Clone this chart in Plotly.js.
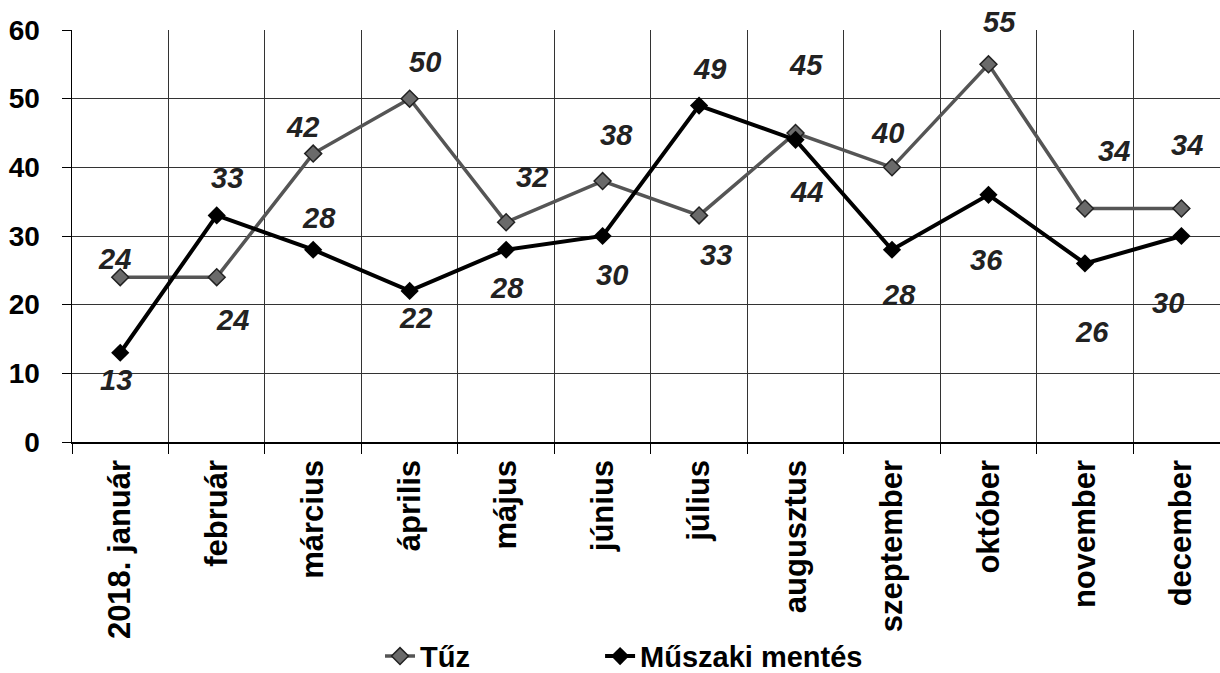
<!DOCTYPE html>
<html>
<head>
<meta charset="utf-8">
<script src="https://cdn.plot.ly/plotly-3.0.1.min.js"></script>
<style>html,body{margin:0;padding:0;background:#fff;}#chart{width:1220px;height:673px;}</style>
</head>
<body>
<div id="chart"></div>
<script>
const months = ["2018. január","február","március","április","május","június","július","augusztus","szeptember","október","november","december"];
const tuz = [24,24,42,50,32,38,33,45,40,55,34,34];
const muszaki = [13,33,28,22,28,30,49,44,28,36,26,30];
const seriesNames = ["Tűz","Műszaki mentés"];

// label offsets (px) per point: [xshift, yshift]
const tuzOff = [[-6,18],[16,-43],[-11,27],[15,37],[26,45],[14,46],[17,-40],[10,68],[-5,34],[11,42],[29,58],[6,64]];
const musOff = [[-4,-27],[10,37],[6,32],[6,-27],[1,-38],[9,-39],[10,37],[11,-52],[7,-45],[-2,-65],[7,-69],[-13,-67]];

const FONT = "Liberation Sans, Arial, sans-serif";
const legFont = {family: FONT, size: 29, color: "#000", weight: "bold"};

const traces = [
  {x: months, y: tuz, name: seriesNames[0], type: "scatter", mode: "lines+markers", legend: "legend",
   line: {color: "#555", width: 3.5},
   marker: {symbol: "diamond", size: 13, color: "#6a6a6a", line: {color: "#222", width: 1.5}}},
  {x: months, y: muszaki, name: seriesNames[1], type: "scatter", mode: "lines+markers", legend: "legend2",
   line: {color: "#000", width: 4},
   marker: {symbol: "diamond", size: 14, color: "#000"}}
];

const annotations = [];
function addLabels(vals, offs) {
  vals.forEach((v, i) => {
    annotations.push({x: months[i], y: v, xref: "x", yref: "y", text: "<b><i>" + v + "</i></b>",
      showarrow: false, xshift: offs[i][0], yshift: offs[i][1],
      font: {family: FONT, size: 29, color: "#222"}});
  });
}
addLabels(tuz, tuzOff);
addLabels(muszaki, musOff);

const layout = {
  width: 1220, height: 673,
  margin: {l: 72, r: 0, t: 30, b: 231, autoexpand: false},
  paper_bgcolor: "#fff", plot_bgcolor: "#fff",
  showlegend: true,
  legend: {orientation: "h", x: 0.2683, xanchor: "left", y: -0.52, yanchor: "middle", font: legFont, bgcolor: "rgba(0,0,0,0)"},
  legend2: {orientation: "h", x: 0.46, xanchor: "left", y: -0.52, yanchor: "middle", font: legFont, bgcolor: "rgba(0,0,0,0)"},
  xaxis: {type: "category", range: [-0.5, 11.40], tickson: "boundaries", automargin: false,
    showgrid: true, gridcolor: "#333", gridwidth: 1,
    showline: true, linecolor: "#000", linewidth: 1.5,
    ticks: "outside", ticklen: 10, tickcolor: "#000", ticklabelstandoff: 4,
    tickangle: -90, tickfont: {family: FONT, size: 31, color: "#000", weight: "bold"},
    fixedrange: true},
  yaxis: {range: [0, 60], dtick: 10, showgrid: true, gridcolor: "#333", gridwidth: 1, automargin: false,
    zeroline: false, showline: true, linecolor: "#000", linewidth: 1.5,
    ticks: "outside", ticklen: 9, tickcolor: "#000", ticklabelstandoff: 16,
    tickfont: {family: FONT, size: 28, color: "#000", weight: "bold"}, fixedrange: true},
  annotations: annotations
};

Plotly.newPlot("chart", traces, layout, {displayModeBar: false, staticPlot: true});
</script>
</body>
</html>
